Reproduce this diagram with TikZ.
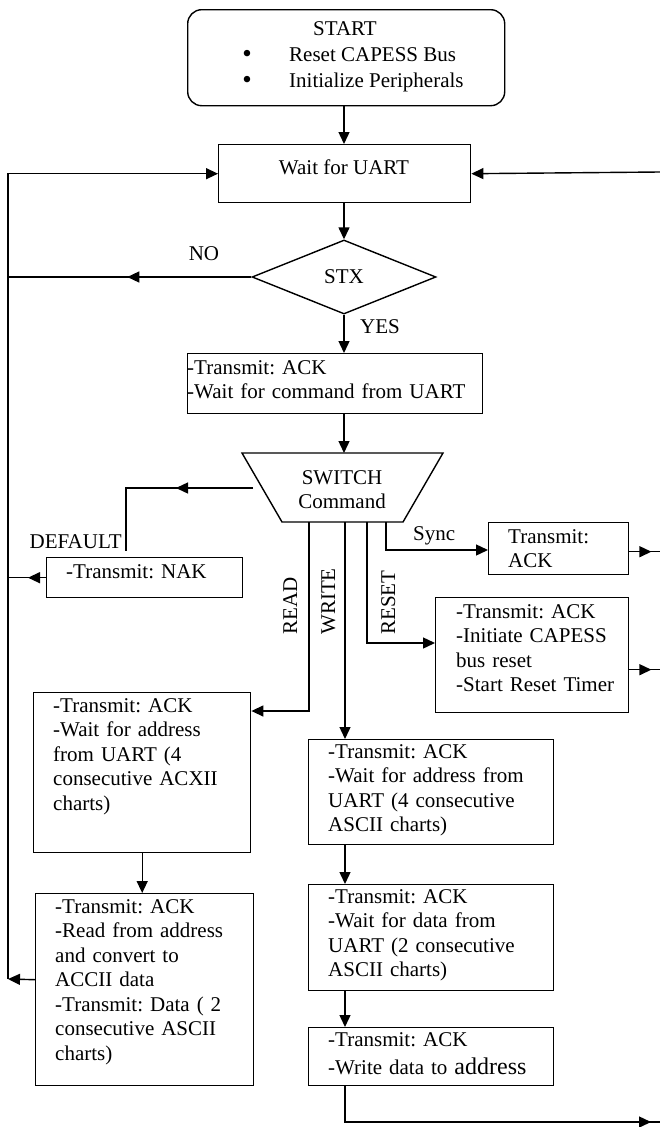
\documentclass[tikz,border=0pt]{standalone}
\usepackage{fontspec}
\setmainfont{Liberation Serif}
\usetikzlibrary{arrows.meta,shapes.geometric,decorations.markings}
\frenchspacing
\begin{document}
\begin{tikzpicture}[x=1pt,y=-1pt,
  every node/.style={font=\fontsize{21}{24.5}\selectfont},
  box/.style={draw,line width=1.4pt,inner sep=0pt,anchor=north west},
  txt/.style={inner sep=0pt,align=left,text width=300pt,anchor=base west},
  lbl/.style={inner sep=0pt},
  bul/.style={inner sep=0pt,anchor=base,font=\fontsize{27}{27}\selectfont},
  line/.style={line width=1.4pt},
  arr/.style={line,-{Triangle[length=12pt,width=11pt]}},
  tipat/.style={line,postaction={decorate},decoration={markings,
      mark=at position #1 with {\arrow{Triangle[length=12pt,width=11pt]}}}}
]
\useasboundingbox (0,0) rectangle (660,1127);
\fill[white] (0,0) rectangle (660,1127);

% start
\node[box,rounded corners=14pt,minimum width=317pt,minimum height=96pt] (start) at (187,9) {};
\node[lbl,anchor=base] (startt) at (345,35) {START};
\node[bul] (b1) at (247,62) {\textbullet};
\node[bul] (b2) at (247,88) {\textbullet};
\node[lbl,anchor=base west] (l1) at (289,61) {Reset CAPESS Bus};
\node[lbl,anchor=base west] (l2) at (289,87) {Initialize Peripherals};

% wait
\node[box,minimum width=252pt,minimum height=58pt] (wait) at (218,144) {};
\node[lbl,anchor=base] (waitt) at (344,174) {Wait for UART};

% STX diamond
\node[diamond,draw,line width=1.4pt,inner sep=0pt,minimum width=184pt,minimum height=74pt] (stx) at (344,277) {STX};
\node[lbl,anchor=base] (no) at (204,260) {NO};
\node[lbl,anchor=base] (yes) at (380,333) {YES};

% ack
\node[box,minimum width=295pt,minimum height=60pt] (ack) at (187,353) {};
\node[txt] (ackt) at (187,374) {-Transmit: ACK\\-Wait for command from UART};

% switch trapezoid
\draw[line] (242,453) -- (443,453) -- (403,522) -- (282,522) -- cycle;
\node[lbl,anchor=base] (swt) at (342,484) {SWITCH};
\node[lbl,anchor=base] (swc) at (342,508) {Command};
\coordinate (swtop) at (344,453);
\coordinate (swleft) at (253,488);
\coordinate (rdtop) at (309,522);
\coordinate (wrtop) at (345,522);
\coordinate (rstop) at (367,522);
\coordinate (sytop) at (386,522);

% default / nak
\node[lbl,anchor=base east] (deflbl) at (122,548) {DEFAULT};
\node[box,minimum width=196pt,minimum height=40pt] (nak) at (46,557) {};
\node[txt] (nakt) at (66,578) {-Transmit: NAK};

% sync
\node[box,minimum width=140pt,minimum height=52pt] (sync) at (488,522) {};
\node[txt] (syncl) at (508,543) {Transmit:\\ACK};
\node[lbl,anchor=base west] (synclbl) at (413,540) {Sync};

% reset
\node[box,minimum width=193pt,minimum height=115pt] (reset) at (435,597) {};
\node[txt] (resett) at (456,618) {-Transmit: ACK\\-Initiate CAPESS\\bus reset\\-Start Reset Timer};

% branch labels
\node[lbl,rotate=90,anchor=base west] (rdlbl) at (297,635) {READ};
\node[lbl,rotate=90,anchor=base west] (wrlbl) at (335,635) {WRITE};
\node[lbl,rotate=90,anchor=base west] (rslbl) at (395,635) {RESET};

% read boxes
\node[box,minimum width=217pt,minimum height=160pt] (read1) at (33,692) {};
\node[txt] (read1t) at (53,712) {-Transmit: ACK\\-Wait for address\\from UART (4\\consecutive ACXII\\charts)};
\node[box,minimum width=218pt,minimum height=192pt] (read2) at (35,893) {};
\node[txt] (read2t) at (55,913) {-Transmit: ACK\\-Read from address\\and convert to\\ACCII data\\-Transmit: Data ( 2\\consecutive ASCII\\charts)};

% write boxes
\node[box,minimum width=245pt,minimum height=105pt] (write1) at (308,739) {};
\node[txt] (write1t) at (328,758) {-Transmit: ACK\\-Wait for address from\\UART (4 consecutive\\ASCII charts)};
\node[box,minimum width=245pt,minimum height=106pt] (write2) at (308,884) {};
\node[txt] (write2t) at (328,903) {-Transmit: ACK\\-Wait for data from\\UART (2 consecutive\\ASCII charts)};
\node[box,minimum width=245pt,minimum height=58pt] (write3) at (308,1027) {};
\node[txt] (write3t) at (328,1046) {-Transmit: ACK\\[3.5pt]-Write data to {\fontsize{24}{28}\selectfont address}};

% coordinates for loops
\coordinate (loopbot) at (8,979);
\coordinate (redge) at (660,172);
\coordinate (wend) at (660,1122);
\coordinate (rdturn) at (309,711);
\coordinate (rsturn) at (367,643);
\coordinate (syturn) at (386,550);
\coordinate (defturn) at (126,488);
\coordinate (defend) at (126,551);

% connectors
\draw[arr] (start.south -| waitt) -- (wait.north -| waitt);
\draw[arr] (wait.south -| waitt) -- (stx.north);
\draw[tipat=124pt] (stx.west) -- (stx.west -| loopbot);
\draw[arr] (stx.south) -- (ack.north -| stx.south);
\draw[arr] (ack.south -| swtop) -- (swtop);
\draw[tipat=77pt] (swleft) -- (defturn) -- (defend);
\draw[tipat=18pt] (nak.west) -- (nak.west -| loopbot);
\draw[arr] (rdtop) -- (rdturn) -- (rdturn -| read1.east);
\draw[arr] (wrtop) -- (wrtop |- write1.north);
\draw[arr] (rstop) -- (rsturn) -- (rsturn -| reset.west);
\draw[arr] (sytop) -- (syturn) -- (syturn -| sync.west);
\draw[tipat=22pt] ([yshift=-3pt]sync.east) -- ([yshift=-3pt]sync.east -| redge);
\draw[tipat=22pt] ([yshift=-14.5pt]reset.east) -- ([yshift=-14.5pt]reset.east -| redge);
\draw[arr] (read1.south) -- (read1.south |- read2.north);
\draw[arr] ([yshift=10pt]read2.west) -- (loopbot);
\draw[arr] (loopbot) |- (wait.west);
\draw[arr] (redge) -- (wait.east);
\draw[arr] (write1.south -| wrtop) -- (write2.north -| wrtop);
\draw[arr] (write2.south -| wrtop) -- (write3.north -| wrtop);
\draw[tipat=-9pt] (write3.south -| wrtop) |- (wend);
\end{tikzpicture}
\end{document}
